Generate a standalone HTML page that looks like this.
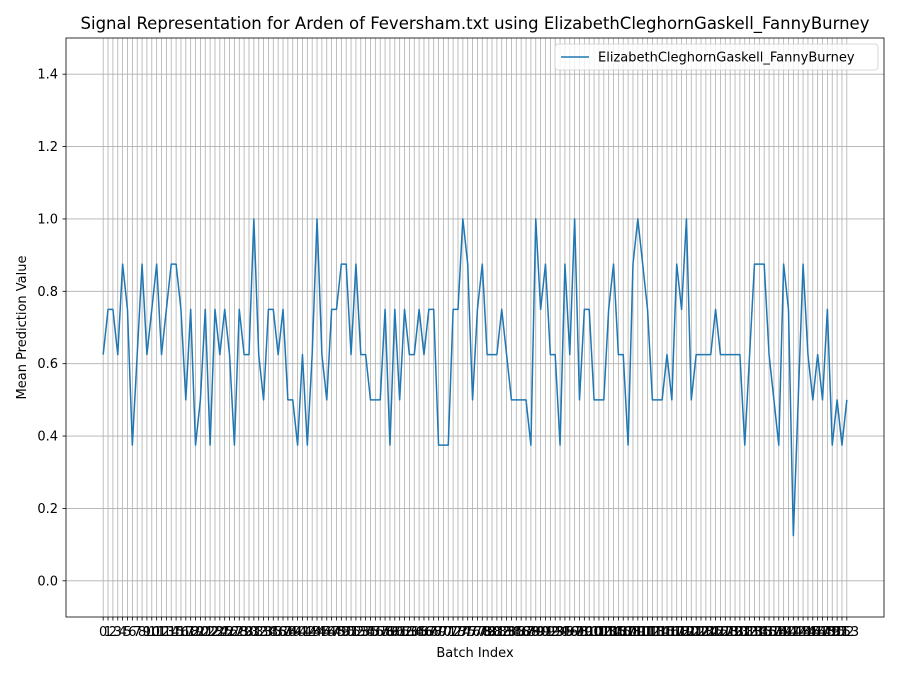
<!DOCTYPE html>
<html><head><meta charset="utf-8"><style>body{margin:0;background:#fff}svg{display:block;font-family:"DejaVu Sans","Liberation Sans",sans-serif}</style></head>
<body>
<svg id="c" width="900" height="675"></svg>
<script>
const values = [0.625,0.75,0.75,0.625,0.875,0.75,0.375,0.625,0.875,0.625,0.75,0.875,0.625,0.75,0.875,0.875,0.75,0.5,0.75,0.375,
0.5,0.75,0.375,0.75,0.625,0.75,0.625,0.375,0.75,0.625,0.625,1.0,0.625,0.5,0.75,0.75,0.625,0.75,0.5,0.5,
0.375,0.625,0.375,0.625,1.0,0.625,0.5,0.75,0.75,0.875,0.875,0.625,0.875,0.625,0.625,0.5,0.5,0.5,0.75,0.375,
0.75,0.5,0.75,0.625,0.625,0.75,0.625,0.75,0.75,0.375,0.375,0.375,0.75,0.75,1.0,0.875,0.5,0.75,0.875,0.625,
0.625,0.625,0.75,0.625,0.5,0.5,0.5,0.5,0.375,1.0,0.75,0.875,0.625,0.625,0.375,0.875,0.625,1.0,0.5,0.75,
0.75,0.5,0.5,0.5,0.75,0.875,0.625,0.625,0.375,0.875,1.0,0.875,0.75,0.5,0.5,0.5,0.625,0.5,0.875,0.75,
1.0,0.5,0.625,0.625,0.625,0.625,0.75,0.625,0.625,0.625,0.625,0.625,0.375,0.625,0.875,0.875,0.875,0.625,0.5,0.375,
0.875,0.75,0.125,0.5,0.875,0.625,0.5,0.625,0.5,0.75,0.375,0.5,0.375,0.5];
const yTicks = [0.0,0.2,0.4,0.6,0.8,1.0,1.2,1.4];
const seriesName = "ElizabethCleghornGaskell_FannyBurney";
const NS="http://www.w3.org/2000/svg", svg=document.getElementById('c');
const L=66,R=884,T=38,B=617;
const n=values.length, xmin=-(n-1)*0.05, xmax=(n-1)*1.05;
const X=i=>L+(i-xmin)/(xmax-xmin)*(R-L);
const Y=v=>B-(v+0.1)/1.6*(B-T);
function mk(t,a,txt){const e=document.createElementNS(NS,t);for(const k in a)e.setAttribute(k,a[k]);if(txt!=null)e.textContent=txt;svg.appendChild(e);return e;}
let e;
e=mk('rect',{x:L,y:T,width:R-L,height:B-T,fill:'#fff'});


for(let i=0;i<n;i++){
 e=mk('line',{x1:X(i),x2:X(i),y1:T,y2:B,stroke:'#b0b0b0','stroke-width':0.8});
 
 
 e=mk('line',{x1:X(i),x2:X(i),y1:B,y2:B+3.5,stroke:'#000','stroke-width':0.8});
 
 
 e=mk('text',{x:X(i),y:B+19,'font-size':13,'text-anchor':'middle',fill:'#000'},String(i));
 
 
}
yTicks.forEach(v=>{
 e=mk('line',{x1:L,x2:R,y1:Y(v),y2:Y(v),stroke:'#b0b0b0','stroke-width':0.8});
 
 
 e=mk('line',{x1:L-3.5,x2:L,y1:Y(v),y2:Y(v),stroke:'#000','stroke-width':0.8});
 
 
 e=mk('text',{x:L-8,y:Y(v)+4.5,'font-size':13,'text-anchor':'end',fill:'#000'},v.toFixed(1));
 
 
});
e=mk('polyline',{points:values.map((v,i)=>X(i).toFixed(2)+','+Y(v).toFixed(2)).join(' '),fill:'none',stroke:'#1f77b4','stroke-width':1.5,'stroke-linejoin':'round'});


e=mk('rect',{x:L,y:T,width:R-L,height:B-T,fill:'none',stroke:'#000','stroke-width':0.8});


e=mk('text',{x:(L+R)/2,y:29,'font-size':16.5,'text-anchor':'middle',fill:'#000'},'Signal Representation for Arden of Feversham.txt using '+seriesName);


e=mk('text',{x:(L+R)/2,y:657,'font-size':13,'text-anchor':'middle',fill:'#000'},'Batch Index');


e=mk('text',{x:26,y:(T+B)/2,'font-size':13,'text-anchor':'middle',fill:'#000',transform:'rotate(-90 26 '+(T+B)/2+')'},'Mean Prediction Value');


e=mk('rect',{x:555,y:44,width:323,height:26,rx:3,fill:'#fff','fill-opacity':0.8,stroke:'#ccc','stroke-width':0.8});


e=mk('line',{x1:561,x2:589,y1:57,y2:57,stroke:'#1f77b4','stroke-width':1.5});


e=mk('text',{x:598,y:61.5,'font-size':13,fill:'#000'},seriesName);


</script>
</body></html>
